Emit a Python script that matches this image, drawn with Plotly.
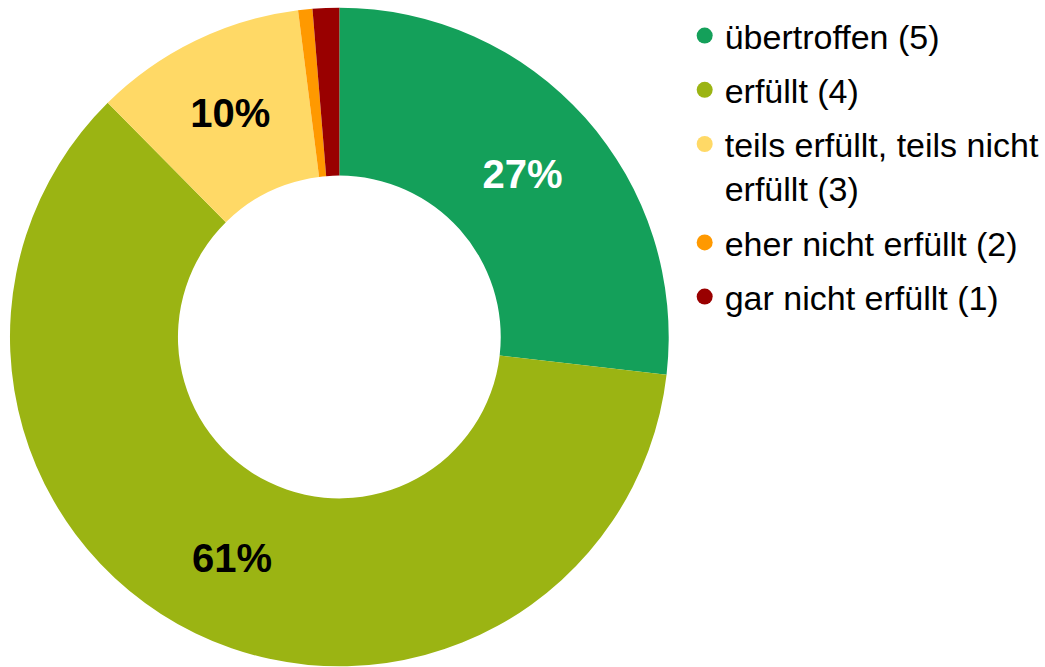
import plotly.graph_objects as go

labels = ["übertroffen (5)", "erfüllt (4)", "teils erfüllt, teils nicht<br>erfüllt (3)",
          "eher nicht erfüllt (2)", "gar nicht erfüllt (1)"]
values = [26.8, 60.7, 10.4, 0.7, 1.3]
colors = ["#14A05A", "#9BB413", "#FFD966", "#FF9900", "#990000"]
text_colors = ["white", "black", "black", "black", "black"]
text_pos = ["inside", "inside", "inside", "none", "none"]

W, H = 1045, 667
fig = go.Figure()
fig.add_trace(go.Pie(
    labels=labels, values=values, sort=False, direction="clockwise", rotation=0,
    hole=0.49,
    marker=dict(colors=colors, line=dict(width=0)),
    texttemplate="%{percent:.0%}", textposition=text_pos,
    insidetextorientation="horizontal",
    insidetextfont=dict(family="Arial, Liberation Sans", size=40, color=text_colors, weight="bold"),
    domain=dict(x=[10 / W, 670 / W], y=[0, 660 / H]),
    showlegend=False,
))
for i, lab in enumerate(labels):
    fig.add_trace(go.Scatter(
        x=[None], y=[None], mode="markers", name=lab, legendgroup=f"g{i}",
        marker=dict(color=colors[i], size=16, symbol="circle"),
    ))

fig.update_layout(
    width=W, height=H,
    margin=dict(l=0, r=0, t=0, b=0),
    paper_bgcolor="white", plot_bgcolor="white",
    xaxis=dict(visible=False), yaxis=dict(visible=False),
    font=dict(family="Arial, Liberation Sans", color="black"),
    legend=dict(
        x=686 / W, y=1 - 7 / H, xanchor="left", yanchor="top",
        font=dict(size=34, color="black"),
        valign="top", tracegroupgap=7, traceorder="grouped",
        bgcolor="rgba(0,0,0,0)",
    ),
)
fig.write_html("out.html", config={"displayModeBar": False},
               post_script="document.body.style.margin='0';")
